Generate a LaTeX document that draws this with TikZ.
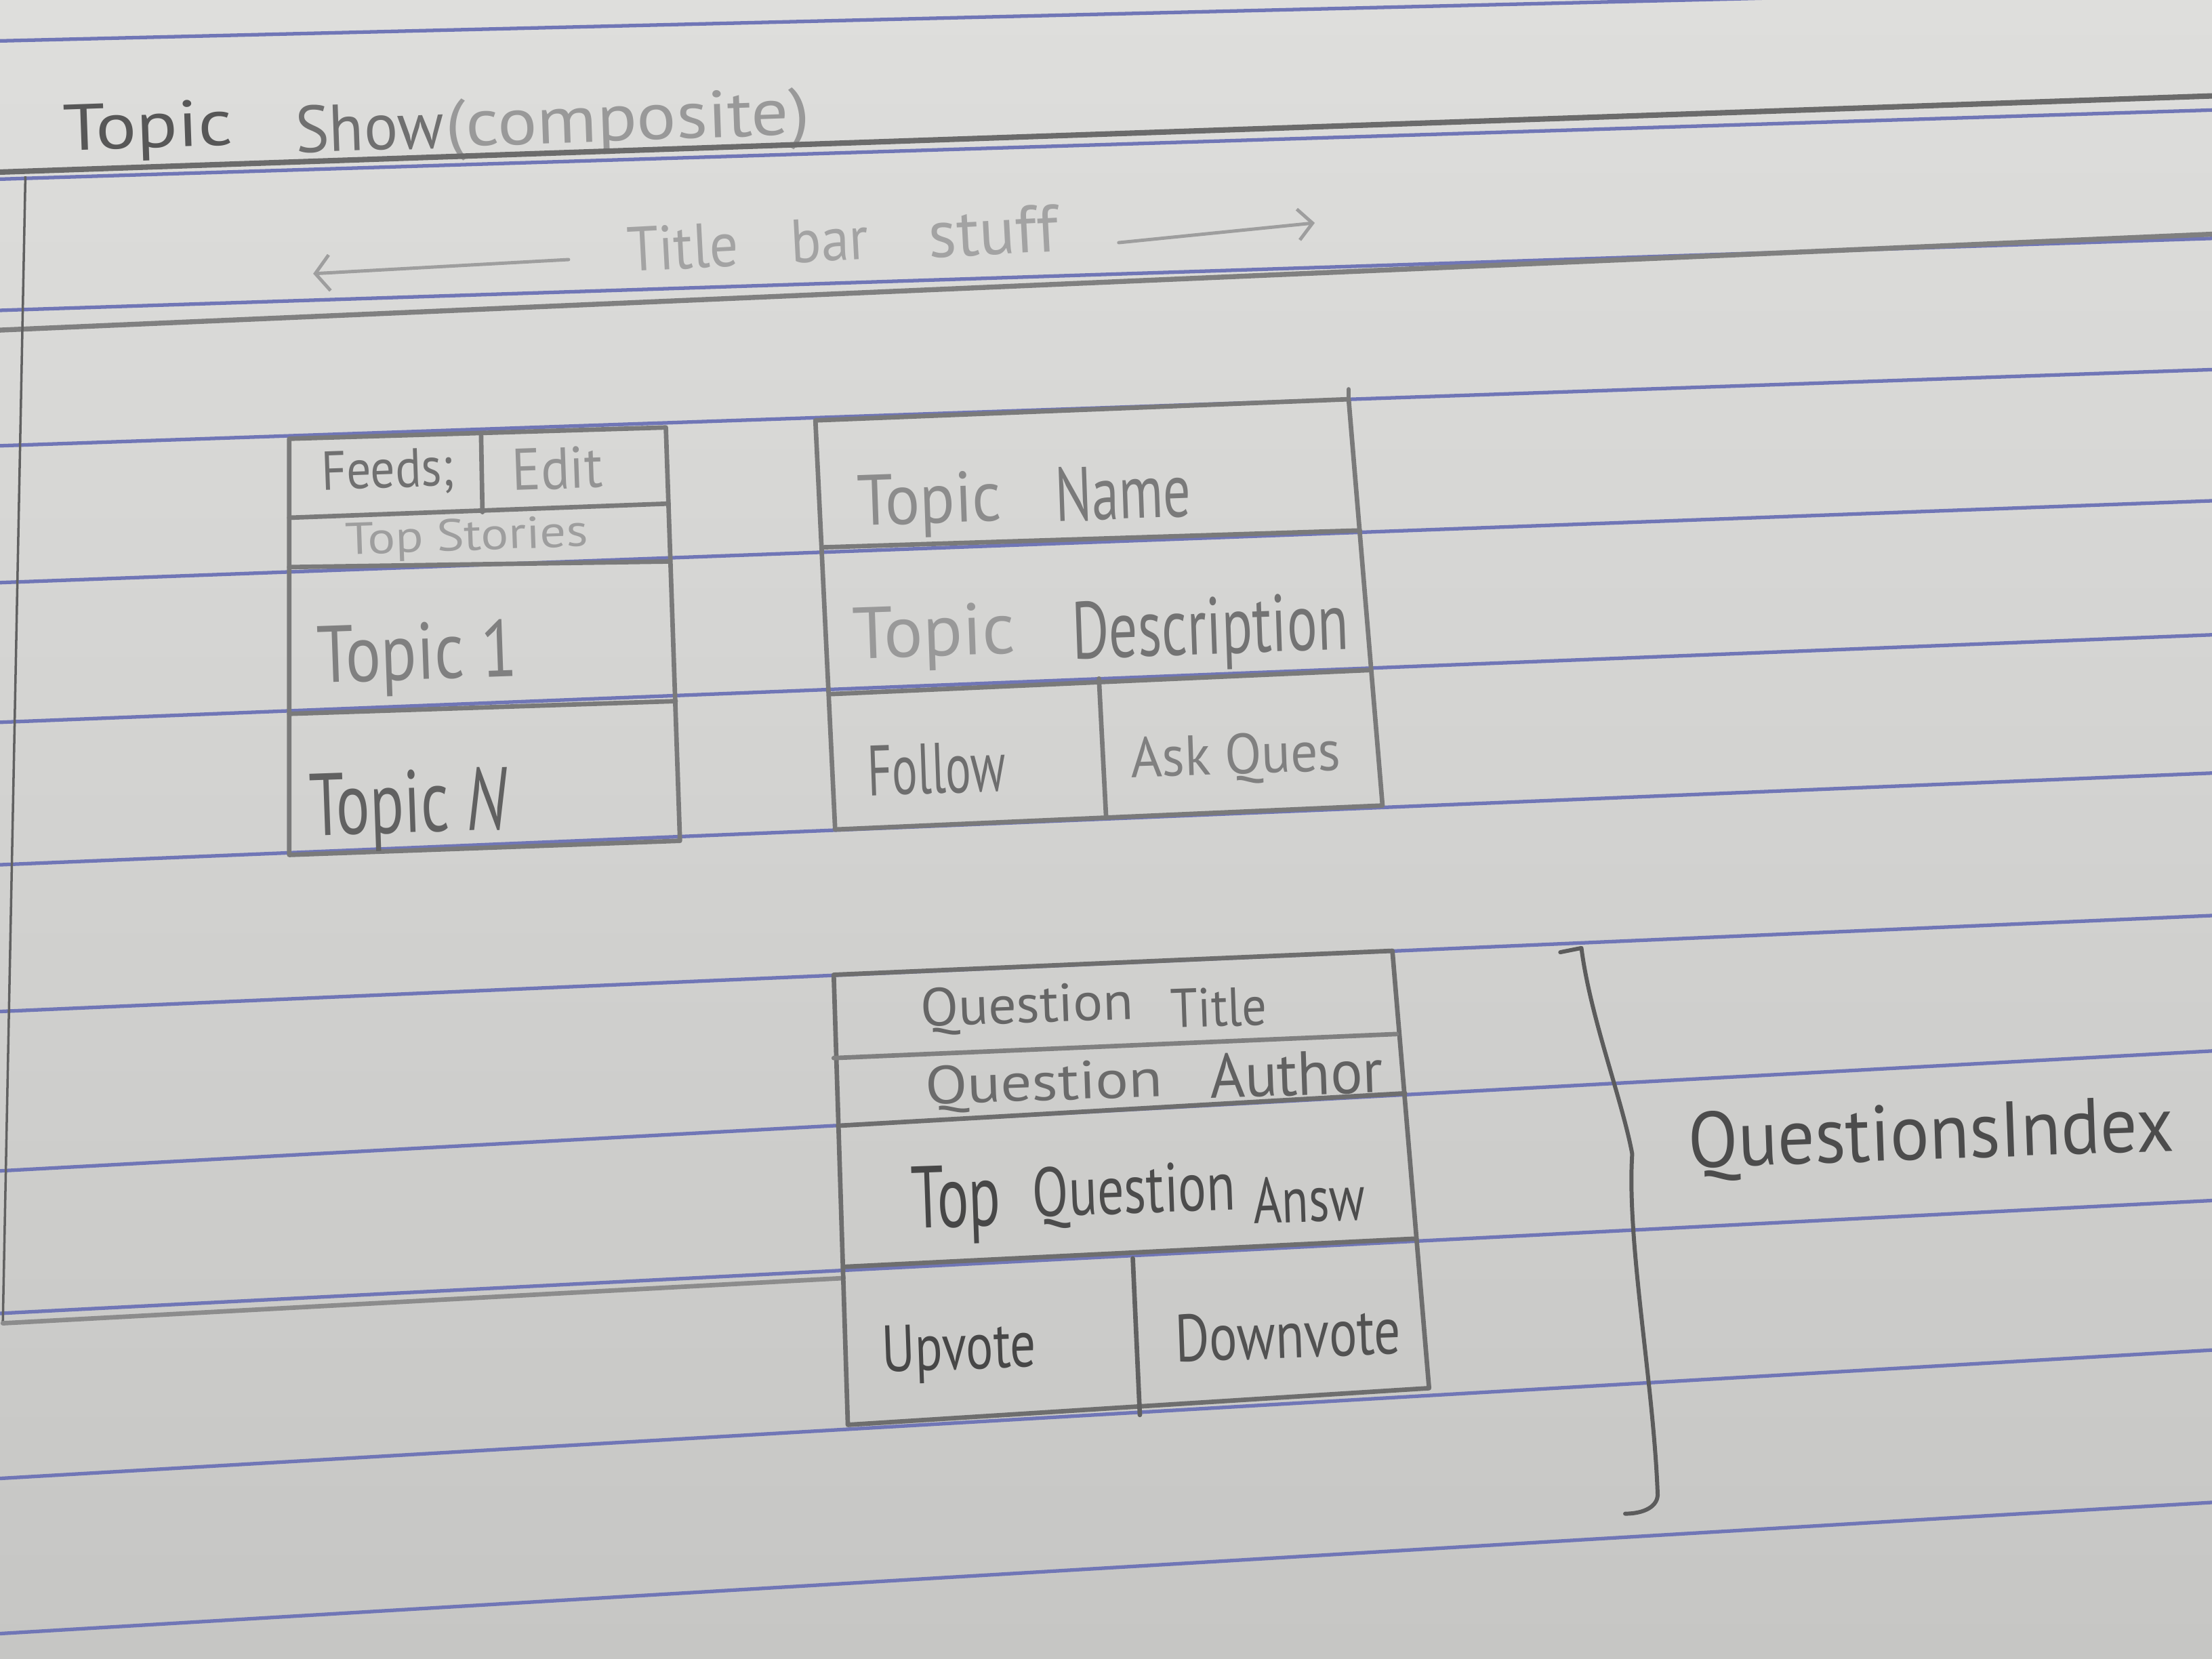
\documentclass[tikz,border=0pt]{standalone}
\usepackage{fontspec}
\setmainfont{PT Sans}
\usepackage{graphicx}
\usetikzlibrary{arrows.meta}

% one drawing unit
\newlength\pxu
\setlength\pxu{0.0208163cm}
% hand lettering: text squeezed into a box of given width and total height
\newcommand\hw[3]{\resizebox*{#1\pxu}{#2\pxu}{#3}}

\definecolor{paperTop}{RGB}{222,222,220}
\definecolor{paperBot}{RGB}{198,198,196}
\definecolor{rulec}{RGB}{112,118,182}

\tikzset{
  pencil/.style={draw=black!52, line width=1.9pt, line cap=round, line join=round},
  pencildark/.style={draw=black!64, line width=1.7pt, line cap=round, line join=round},
  rule/.style={draw=rulec, line width=1.5pt},
  hand/.style={inner sep=0pt, outer sep=0pt, rotate=2},
}

\begin{document}
\begin{tikzpicture}[x=0.0208163cm, y=-0.0208163cm]
\useasboundingbox (0,0) rectangle (1568,1176);
\shade[top color=paperTop, bottom color=paperBot] (0,0) rectangle (1568,1176);

% ruled notebook lines
\begin{scope}
\clip (0,0) rectangle (1568,1176);
\draw[rule] (0,29) -- (1568,-9);
\draw[rule] (0,127) -- (1568,78);
\draw[rule] (0,220) -- (1568,169);
\draw[rule] (0,316) -- (1568,262);
\draw[rule] (0,413) -- (1568,355);
\draw[rule] (0,512) -- (1568,450);
\draw[rule] (0,613) -- (1568,548);
\draw[rule] (0,717) -- (1568,649);
\draw[rule] (0,830) -- (1568,745);
\draw[rule] (0,931) -- (1568,851);
\draw[rule] (0,1048) -- (1568,957);
\draw[rule] (0,1158) -- (1568,1065);
\end{scope}

% page heading
\node[hand, text=black!66] (hTopic) at (105,93) {\hw{120}{42}{Topic}};
\node[hand, text=black!56] (hShow) at (262,90) {\hw{105}{34}{Show}};
\node[hand, text=black!40] (hComp) at (445,88) {\hw{258}{44}{(composite)}};

% outer frame and title bar
\draw[pencil, draw=black!58, line width=2.3pt] (0,122) -- (1568,68);
\draw[pencil, draw=black!50, line width=2.1pt] (0,234) -- (1568,166);
\draw[draw=black!62, line width=1pt] (18,125) -- (2,938);
\draw[pencil, draw=black!45] (2,938) -- (598,906);

\node[hand, rotate=1, text=black!36] (tbTitle) at (484,175) {\hw{79}{32}{Title}};
\node[hand, rotate=1, text=black!36] (tbBar) at (588,170) {\hw{55}{31}{bar}};
\node[hand, rotate=1, text=black!36] (tbStuff) at (704,164) {\hw{92}{34}{stuff}};
\coordinate (laS) at (403,184);
\coordinate (laE) at (222,194);
\coordinate (raS) at (793,172);
\coordinate (raE) at (932,158);
\draw[pencil, draw=black!38, line width=1.4pt, -{Straight Barb[length=6pt, width=15pt]}] (laS) -- (laE);
\draw[pencil, draw=black!38, line width=1.4pt, -{Straight Barb[length=6pt, width=13pt]}] (raS) -- (raE);

% feeds panel
\coordinate (fA) at (205,311);
\coordinate (fB) at (472,303);
\coordinate (fC) at (482,596);
\coordinate (fD) at (205,606);
\draw[pencil] (fA) -- (fB) -- (fC) -- (fD) -- cycle;
\draw[pencil] (205,367) -- (474,357);
\draw[pencil] (205,402) -- (475,398);
\draw[pencil] (205,506) -- (479,497);
\draw[pencil] (341,307) -- (342,363);
\node[hand, text=black!56] (feeds) at (275,335) {\hw{94}{33}{Feeds;}};
\node[hand, text=black!42] (edit) at (395,332) {\hw{64}{30}{Edit}};
\node[hand, text=black!38] (stories) at (331,382) {\hw{172}{29}{Top Stories}};
\node[hand, text=black!50] (topic1) at (296,467) {\hw{142}{52}{Topic 1}};
\node[hand, text=black!62] (topicN) at (290,574) {\hw{141}{57}{Topic \textit{N}}};

% topic panel
\coordinate (tA) at (578,298);
\coordinate (tB) at (956,283);
\coordinate (tC) at (980,571);
\coordinate (tD) at (592,588);
\draw[pencil] (tA) -- (tB) -- (tC) -- (tD) -- cycle;
\draw[pencil] (tB) -- (956,276);
\draw[pencil] (583,388) -- (964,376);
\draw[pencil] (589,492) -- (971,475);
\draw[pencil] (779,481) -- (784,578);
\node[hand, text=black!45] (tnTopic) at (659,358) {\hw{102}{46}{Topic}};
\node[hand, text=black!52] (tnName) at (796,349) {\hw{96}{39}{Name}};
\node[hand, text=black!40] (tdTopic) at (662,452) {\hw{115}{47}{Topic}};
\node[hand, text=black!55] (tdDesc) at (858,449) {\hw{196}{52}{Description}};
\node[hand, text=black!57] (follow) at (664,545) {\hw{98}{36}{Follow}};
\node[hand, text=black!50] (askq) at (876,538) {\hw{149}{36}{Ask Ques}};

% question panel
\coordinate (qA) at (591,691);
\coordinate (qB) at (987,674);
\coordinate (qC) at (1013,984);
\coordinate (qD) at (601,1010);
\draw[pencil, draw=black!57] (qA) -- (qB) -- (qC) -- (qD) -- cycle;
\draw[pencil, draw=black!50] (591,750) -- (990,733);
\draw[pencil, draw=black!57] (594,798) -- (996,775);
\draw[pencil, draw=black!57] (598,898) -- (1004,878);
\draw[pencil, draw=black!62] (803,892) -- (808,1003);
\node[hand, text=black!60] (qtQ) at (728,715) {\hw{151}{34}{Question}};
\node[hand, text=black!60] (qtT) at (864,714) {\hw{68}{28}{Title}};
\node[hand, text=black!58] (qaQ) at (740,770) {\hw{168}{34}{Question}};
\node[hand, text=black!62] (qaA) at (919,761) {\hw{123}{32}{Author}};
\node[hand, text=black!72] (taTop) at (678,854) {\hw{63}{56}{Top}};
\node[hand, text=black!70] (taQ) at (804,847) {\hw{144}{44}{Question}};
\node[hand, text=black!70] (taA) at (928,850) {\hw{79}{33}{Answ}};
\node[hand, text=black!72] (upv) at (680,959) {\hw{109}{42}{Upvote}};
\node[hand, text=black!68] (downv) at (913,946) {\hw{160}{34}{Downvote}};

% index brace and label
\draw[pencildark] (1106,675) -- (1121,672)
  .. controls (1127,720) and (1150,780) .. (1157,818)
  .. controls (1153,880) and (1172,980) .. (1175,1058)
  .. controls (1176,1068) and (1165,1073) .. (1152,1073);
\node[hand, text=black!70] (qindex) at (1369,807) {\hw{344}{50}{QuestionsIndex}};
\end{tikzpicture}
\end{document}
